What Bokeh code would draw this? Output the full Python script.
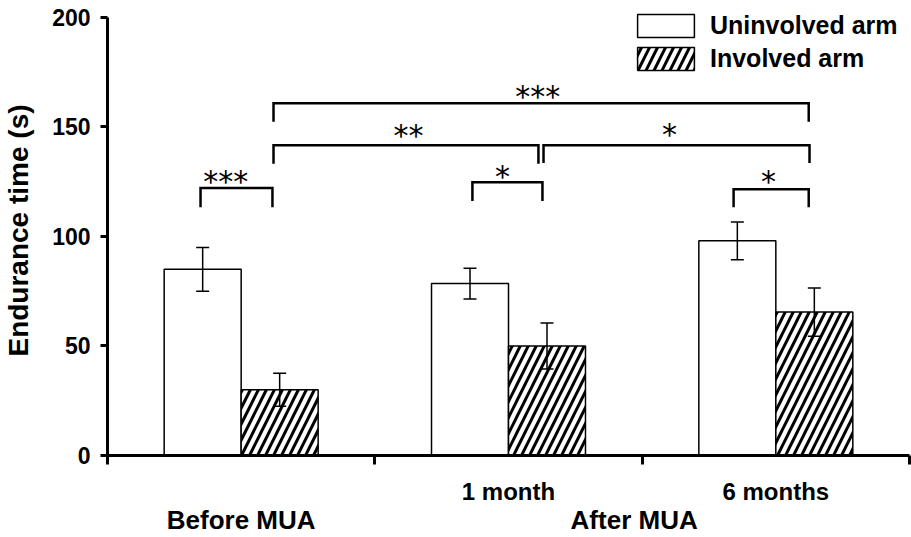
from bokeh.plotting import figure
from bokeh.models import (Range1d, FixedTicker, ColumnDataSource, Whisker, TeeHead,
                          Legend, LegendItem, LinearAxis)
from bokeh.core.properties import value
from bokeh.embed import file_html
from bokeh.resources import INLINE

# ---- data ----
groups = ["Before MUA", "1 month", "6 months"]
group_x = [0.5, 1.5, 2.5]
uninvolved = [85.0, 78.5, 98.0]
uninvolved_err = [10.0, 7.0, 8.6]
involved = [30.0, 50.0, 65.5]
involved_err = [7.5, 10.5, 11.0]

sub_labels = ["1 month", "6 months"]
sub_label_x = [1.5, 2.5]
period_labels = ["Before MUA", "After MUA"]
period_label_x = [0.5, 1.97]

y_ticks = [0, 50, 100, 150, 200]
x_ticks = [0, 1, 2, 3]

# significance brackets
br_x0 = [0.348, 0.621, 1.631, 0.621, 1.365, 2.342]
br_x1 = [0.617, 1.612, 2.626, 2.623, 1.627, 2.623]
br_top = [122.1, 141.7, 141.7, 160.8, 124.8, 121.6]
br_leg = [113.4, 133.2, 133.5, 152.4, 116.2, 113.4]
sig_text = ["***", "**", "*", "***", "*", "*"]
sig_x = [0.442, 1.126, 2.102, 1.609, 1.478, 2.473]
sig_y = [127.3, 148.5, 148.9, 166.3, 129.8, 127.3]

FONT = "Liberation Sans"
BAR_W = 0.288
OFF = 0.144
Y_TOP = 205.47  # a little headroom above 200 so the legend sits inside the frame

p = figure(width=911, height=537, output_backend="svg", toolbar_location=None,
           x_range=Range1d(0, 3), y_range=Range1d(0, Y_TOP),
           min_border_left=107, min_border_right=2, min_border_top=5, min_border_bottom=81)
p.outline_line_color = None
p.xgrid.visible = False
p.ygrid.visible = False
p.background_fill_color = "white"
p.border_fill_color = "white"

unin_x = [g - OFF for g in group_x]
inv_x = [g + OFF for g in group_x]

src_u = ColumnDataSource(dict(x=unin_x, top=uninvolved,
                              upper=[v + e for v, e in zip(uninvolved, uninvolved_err)],
                              lower=[v - e for v, e in zip(uninvolved, uninvolved_err)]))
src_i = ColumnDataSource(dict(x=inv_x, top=involved,
                              upper=[v + e for v, e in zip(involved, involved_err)],
                              lower=[v - e for v, e in zip(involved, involved_err)]))

r_u = p.vbar(x="x", top="top", width=BAR_W, bottom=0, source=src_u,
             fill_color="white", line_color="black", line_width=1.5)
r_i = p.vbar(x="x", top="top", width=BAR_W, bottom=0, source=src_i,
             fill_color="white", line_color="black", line_width=1.5,
             hatch_pattern="/", hatch_color="black", hatch_weight=3, hatch_scale=16)

for src in (src_u, src_i):
    w = Whisker(base="x", upper="upper", lower="lower", source=src, level="overlay",
                line_color="black", line_width=1.5,
                upper_head=TeeHead(size=13, line_width=1.5, line_color="black"),
                lower_head=TeeHead(size=13, line_width=1.5, line_color="black"))
    p.add_layout(w)

# brackets
xs = [[a, a, b, b] for a, b in zip(br_x0, br_x1)]
ys = [[l, t, t, l] for t, l in zip(br_top, br_leg)]
p.multi_line(xs=xs, ys=ys, line_color="black", line_width=2.5, line_join="miter")

p.text(x=sig_x, y=sig_y, text=sig_text, text_align="center", text_baseline="middle",
       text_font=value("DejaVu Sans"), text_font_size="30px", text_color="black",
       y_offset=5)

# axes
ya = p.yaxis[0]
ya.ticker = FixedTicker(ticks=y_ticks)
ya.bounds = (0, 200)
ya.axis_line_width = 3
ya.axis_line_color = "black"
ya.major_tick_line_width = 3
ya.major_tick_line_color = "black"
ya.major_tick_out = 7
ya.major_tick_in = 0
ya.minor_tick_line_color = None
ya.major_label_text_font = FONT
ya.major_label_text_font_style = "bold"
ya.major_label_text_font_size = "23px"
ya.major_label_text_color = "black"
ya.major_label_standoff = 10
ya.axis_label = "Endurance time (s)"
ya.axis_label_text_font = FONT
ya.axis_label_text_font_style = "bold"
ya.axis_label_text_font_size = "28px"
ya.axis_label_text_color = "black"
ya.axis_label_standoff = 15

xa = p.xaxis[0]
xa.ticker = FixedTicker(ticks=x_ticks)
xa.axis_line_width = 3
xa.axis_line_color = "black"
xa.major_tick_line_width = 3
xa.major_tick_line_color = "black"
xa.major_tick_out = 9
xa.major_tick_in = 0
xa.minor_tick_line_color = None
xa.major_label_overrides = {t: "" for t in x_ticks}
xa.major_label_text_color = None
xa.major_label_text_font_size = "4px"
xa.major_label_standoff = 0

xa2 = LinearAxis(ticker=FixedTicker(ticks=sub_label_x),
                 major_label_overrides={v: t for v, t in zip(sub_label_x, sub_labels)},
                 axis_line_color=None, major_tick_line_color=None, minor_tick_line_color=None,
                 major_tick_out=0, major_tick_in=0, major_label_standoff=13,
                 major_label_text_font=FONT, major_label_text_font_style="bold",
                 major_label_text_font_size="24px", major_label_text_color="black")
p.add_layout(xa2, "below")

xa3 = LinearAxis(ticker=FixedTicker(ticks=period_label_x),
                 major_label_overrides={v: t for v, t in zip(period_label_x, period_labels)},
                 axis_line_color=None, major_tick_line_color=None, minor_tick_line_color=None,
                 major_tick_out=0, major_tick_in=0, major_label_standoff=-3,
                 major_label_text_font=FONT, major_label_text_font_style="bold",
                 major_label_text_font_size="26px", major_label_text_color="black")
p.add_layout(xa3, "below")

legend = Legend(items=[LegendItem(label="Uninvolved arm", renderers=[r_u]),
                       LegendItem(label="Involved arm", renderers=[r_i])],
                location=(523, 382), padding=0, margin=0, spacing=4,
                glyph_width=71, glyph_height=29, label_height=29, label_standoff=9,
                border_line_alpha=0, background_fill_alpha=0,
                label_text_font=FONT, label_text_font_style="bold",
                label_text_font_size="25px", label_text_color="black")
p.add_layout(legend)

open("out.html", "w").write(file_html(p, INLINE))
